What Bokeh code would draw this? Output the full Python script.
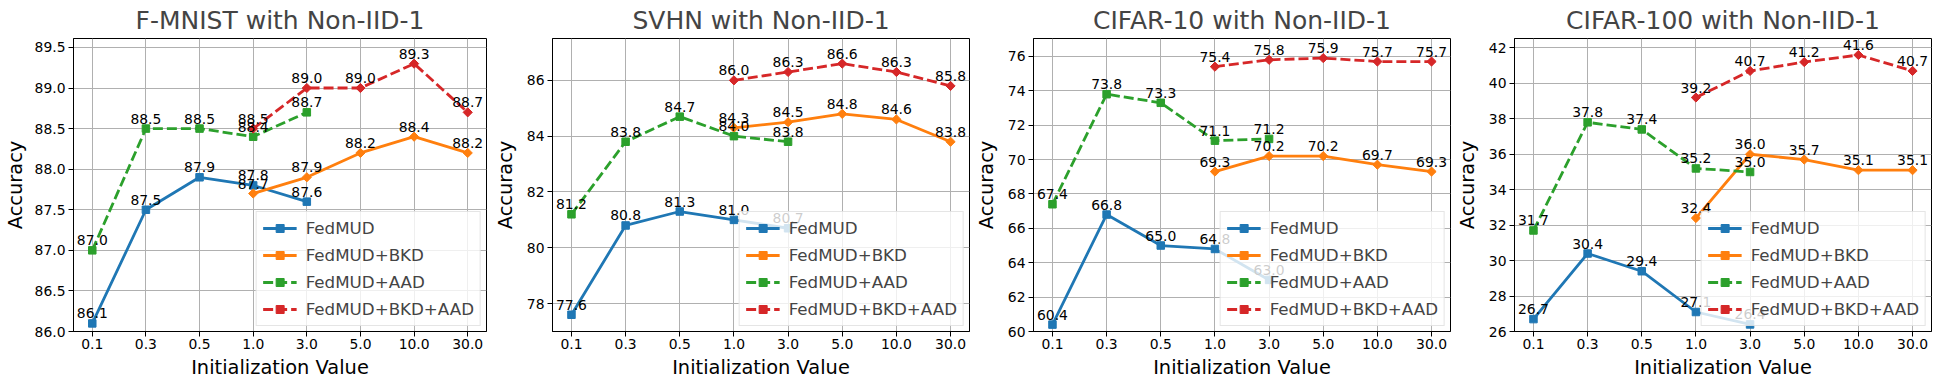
import numpy as np
from bokeh.plotting import figure
from bokeh.layouts import row
from bokeh.models import FixedTicker, Range1d, Legend, LegendItem, NumeralTickFormatter
from bokeh.embed import file_html
from bokeh.resources import INLINE
from bokeh.core.properties import value

init_values = ["0.1", "0.3", "0.5", "1.0", "3.0", "5.0", "10.0", "30.0"]
series_names = ["FedMUD", "FedMUD+BKD", "FedMUD+AAD", "FedMUD+BKD+AAD"]

# FedMUD and FedMUD+AAD cover init values 0.1..3.0; BKD variants cover 1.0..30.0
fmnist_fedmud = [86.1, 87.5, 87.9, 87.8, 87.6]
fmnist_bkd = [87.7, 87.9, 88.2, 88.4, 88.2]
fmnist_aad = [87.0, 88.5, 88.5, 88.4, 88.7]
fmnist_bkd_aad = [88.5, 89.0, 89.0, 89.3, 88.7]

svhn_fedmud = [77.6, 80.8, 81.3, 81.0, 80.7]
svhn_bkd = [84.3, 84.5, 84.8, 84.6, 83.8]
svhn_aad = [81.2, 83.8, 84.7, 84.0, 83.8]
svhn_bkd_aad = [86.0, 86.3, 86.6, 86.3, 85.8]

cifar10_fedmud = [60.4, 66.8, 65.0, 64.8, 63.0]
cifar10_bkd = [69.3, 70.2, 70.2, 69.7, 69.3]
cifar10_aad = [67.4, 73.8, 73.3, 71.1, 71.2]
cifar10_bkd_aad = [75.4, 75.8, 75.9, 75.7, 75.7]

cifar100_fedmud = [26.7, 30.4, 29.4, 27.1, 26.4]
cifar100_bkd = [32.4, 36.0, 35.7, 35.1, 35.1]
cifar100_aad = [31.7, 37.8, 37.4, 35.2, 35.0]
cifar100_bkd_aad = [39.2, 40.7, 41.2, 41.6, 40.7]

titles = ["F-MNIST with Non-IID-1", "SVHN with Non-IID-1",
          "CIFAR-10 with Non-IID-1", "CIFAR-100 with Non-IID-1"]
x_label = "Initialization Value"
y_label = "Accuracy"
y_limits = [(86.0, 89.61), (77.0, 87.5), (60.0, 77.04), (26.0, 42.53)]
y_ticks = [[86.0, 86.5, 87.0, 87.5, 88.0, 88.5, 89.0, 89.5],
           [78, 80, 82, 84, 86],
           [60, 62, 64, 66, 68, 70, 72, 74, 76],
           [26, 28, 30, 32, 34, 36, 38, 40, 42]]
y_formats = ["0.0", "0", "0", "0"]

panels = [
    (fmnist_fedmud, fmnist_bkd, fmnist_aad, fmnist_bkd_aad),
    (svhn_fedmud, svhn_bkd, svhn_aad, svhn_bkd_aad),
    (cifar10_fedmud, cifar10_bkd, cifar10_aad, cifar10_bkd_aad),
    (cifar100_fedmud, cifar100_bkd, cifar100_aad, cifar100_bkd_aad),
]

colors = ["#1f77b4", "#ff7f0e", "#2ca02c", "#d62728"]
dashes = ["solid", "solid", "10 4", "10 4"]
diamond = [False, True, False, True]
FONT = "DejaVu Sans"

x_first = list(range(0, 5))   # 0.1 .. 3.0
x_last = list(range(3, 8))    # 1.0 .. 30.0
x_for = [x_first, x_last, x_first, x_last]

widths = [490, 481, 481, 481]
left_borders = [67, 60, 60, 60]
right_borders = [4, 2, 2, 2]
ylabel_standoffs = [5, 7, 7, 7]

figs = []
for i, data in enumerate(panels):
    p = figure(width=widths[i], height=381, output_backend="svg", toolbar_location=None,
               x_range=Range1d(-0.35, 7.35), y_range=Range1d(*y_limits[i]),
               min_border_left=left_borders[i], min_border_right=right_borders[i],
               min_border_top=29, min_border_bottom=0, title=titles[i],
               margin=(0, 0, -7, 0))
    p.title.text_font = FONT
    p.title.text_font_size = "25px"
    p.title.text_font_style = "normal"
    p.title.text_line_height = 1.0
    p.title.align = "center"
    p.title.standoff = 7
    p.outline_line_color = "black"
    p.outline_line_width = 1
    p.outline_line_alpha = 1

    for ax in (p.xaxis[0], p.yaxis[0]):
        ax.axis_line_color = "black"
        ax.major_tick_line_color = "black"
        ax.major_tick_out = 5
        ax.major_tick_in = 0
        ax.minor_tick_line_color = None
        ax.major_label_text_font = FONT
        ax.major_label_text_font_size = "13.9px"
        ax.major_label_text_color = "black"
        ax.axis_label_text_font = FONT
        ax.axis_label_text_font_size = "19.4px"
        ax.axis_label_text_font_style = "normal"
        ax.axis_label_text_color = "black"
    p.xaxis.axis_label = x_label
    p.yaxis.axis_label = y_label
    p.xaxis.major_label_standoff = 2
    p.xaxis.axis_label_standoff = 4
    p.yaxis.major_label_standoff = 3
    p.yaxis.axis_label_standoff = ylabel_standoffs[i]
    p.xaxis.ticker = FixedTicker(ticks=list(range(len(init_values))))
    p.xaxis.major_label_overrides = {k: lab for k, lab in enumerate(init_values)}
    p.yaxis.ticker = FixedTicker(ticks=y_ticks[i])
    p.yaxis.formatter = NumeralTickFormatter(format=y_formats[i])
    p.grid.grid_line_color = "#b0b0b0"
    p.grid.grid_line_width = 1

    items = []
    for s in range(4):
        xs = x_for[s]
        ys = data[s]
        ln = p.line(xs, ys, line_color=colors[s], line_width=2.8, line_dash=dashes[s])
        if diamond[s]:
            mk = p.scatter(xs, ys, marker="square", angle=np.pi / 4, size=6.5,
                           fill_color=colors[s], line_color=colors[s])
        else:
            mk = p.scatter(xs, ys, marker="square", size=7.5,
                           fill_color=colors[s], line_color=colors[s])
        items.append(LegendItem(label=series_names[s], renderers=[ln, mk]))

    for s in range(4):
        xs = x_for[s]
        ys = data[s]
        p.text(xs, ys, text=[f"{v:.1f}" for v in ys], text_align="center",
               text_baseline="bottom", y_offset=-5, text_font=value(FONT),
               text_font_size="13.9px", text_color="black")

    legend = Legend(items=items, location="bottom_right", margin=5,
                    label_text_font=FONT, label_text_font_size="16.7px",
                    glyph_width=34, glyph_height=20, label_height=20,
                    spacing=7, padding=6, label_standoff=9,
                    background_fill_color="white", background_fill_alpha=0.8,
                    border_line_color="#cccccc", border_line_width=1)
    p.add_layout(legend)
    figs.append(p)

layout = row(*figs, spacing=0)
open("out.html", "w").write(file_html(layout, INLINE))
